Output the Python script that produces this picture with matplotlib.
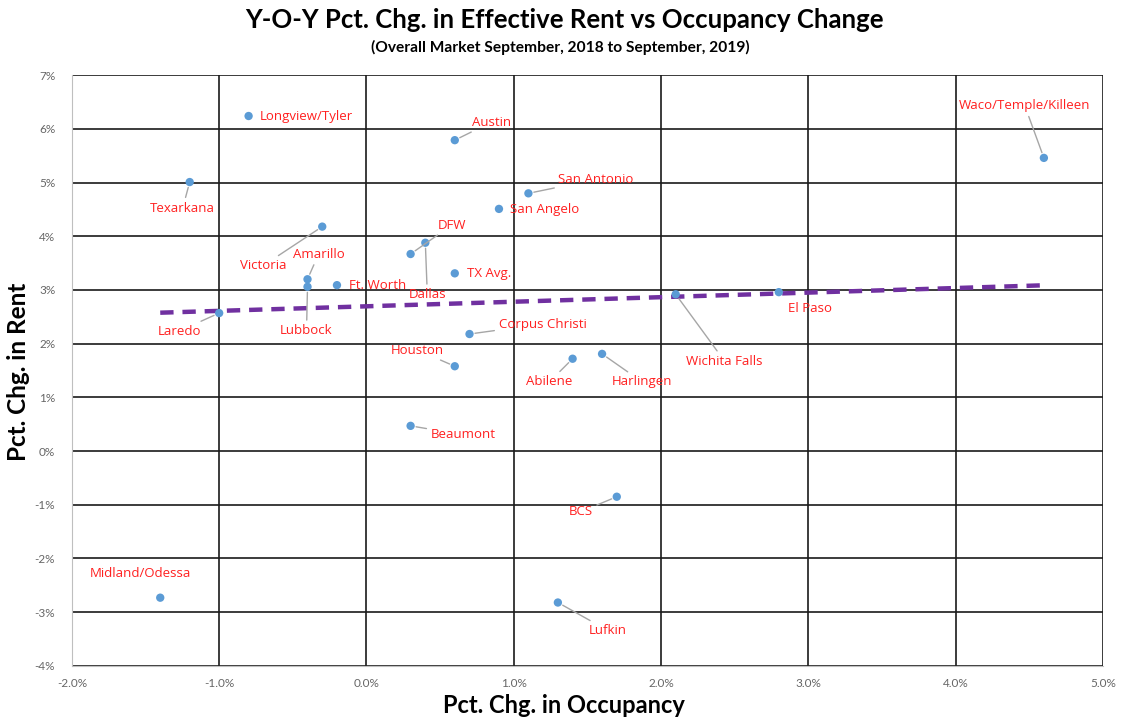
import numpy as np
import matplotlib.pyplot as plt
from matplotlib.ticker import FuncFormatter

# values (percent)
markets = ['Longview/Tyler', 'Austin', 'Waco/Temple/Killeen', 'Texarkana', 'San Antonio',
           'San Angelo', 'Victoria', 'Amarillo', 'Lubbock', 'Ft. Worth', 'DFW', 'Dallas',
           'TX Avg.', 'Laredo', 'Corpus Christi', 'Houston', 'Abilene', 'Harlingen',
           'Wichita Falls', 'El Paso', 'Beaumont', 'BCS', 'Midland/Odessa', 'Lufkin']
occupancy_chg = [-0.8, 0.6, 4.6, -1.2, 1.1, 0.9, -0.3, -0.4, -0.4, -0.2, 0.3, 0.4,
                 0.6, -1.0, 0.7, 0.6, 1.4, 1.6, 2.1, 2.8, 0.3, 1.7, -1.4, 1.3]
rent_chg = [6.24, 5.79, 5.46, 5.01, 4.80, 4.51, 4.18, 3.20, 3.06, 3.09, 3.67, 3.88,
            3.31, 2.57, 2.18, 1.58, 1.72, 1.81, 2.92, 2.96, 0.47, -0.85, -2.73, -2.82]

# label layout: pixel offset from point, alignment, leader line
label_pos = {
    'Longview/Tyler': (11, 0, 'left', False),
    'Austin': (17, 18, 'left', True),
    'Waco/Temple/Killeen': (-19, 52, 'center', True),
    'Texarkana': (-7, -26, 'center', True),
    'San Antonio': (30, 14, 'left', True),
    'San Angelo': (11, -1, 'left', False),
    'Victoria': (-59, -39, 'center', True),
    'Amarillo': (11, 25, 'center', True),
    'Lubbock': (-1, -44, 'center', True),
    'Ft. Worth': (12, 0, 'left', False),
    'DFW': (27, 29, 'left', True),
    'Dallas': (2, -52, 'center', True),
    'TX Avg.': (12, 0, 'left', False),
    'Laredo': (-40, -18, 'center', True),
    'Corpus Christi': (29, 10, 'left', True),
    'Houston': (-37, 16, 'center', True),
    'Abilene': (-23, -23, 'center', True),
    'Harlingen': (40, -28, 'center', True),
    'Wichita Falls': (49, -67, 'center', True),
    'El Paso': (31, -16, 'center', False),
    'Beaumont': (20, -9, 'left', True),
    'BCS': (-36, -15, 'center', True),
    'Midland/Odessa': (-20, 24, 'center', False),
    'Lufkin': (50, -28, 'center', True),
}

x = np.array(occupancy_chg)
y = np.array(rent_chg)

fig = plt.figure(figsize=(11.23, 7.23), dpi=100)
ax = fig.add_axes([0.064, 0.079, 0.918, 0.817])

ax.set_xlim(-2, 5)
ax.set_ylim(-4, 7)
ax.set_xticks(np.arange(-2, 5.01, 1))
ax.set_yticks(np.arange(-4, 7.01, 1))
ax.xaxis.set_major_formatter(FuncFormatter(lambda v, p: f'{v:.1f}%'))
ax.yaxis.set_major_formatter(FuncFormatter(lambda v, p: f'{v:.0f}%'))
ax.grid(True, color='#1a1a1a', linewidth=1.2, zorder=0)
ax.set_axisbelow(True)
for s in ['top', 'right']:
    ax.spines[s].set_visible(False)
for s in ['left', 'bottom']:
    ax.spines[s].set_color('#BFBFBF')
    ax.spines[s].set_zorder(3)
ax.tick_params(axis='x', colors='#666666', labelsize=8.5, length=0, pad=9)
ax.tick_params(axis='y', colors='#666666', labelsize=8.5, length=0, pad=12)
for lbl in ax.get_xticklabels() + ax.get_yticklabels():
    lbl.set_family('Lato')

# linear trendline (Excel style)
k, b = np.polyfit(x, y, 1)
tx = np.array([x.min(), x.max()])
ax.plot(tx, k * tx + b, color='#7030A0', linestyle=(0, (3, 2)), linewidth=3.2, zorder=2)

ax.scatter(x, y, s=36, color='#5B9BD5', zorder=4, edgecolors='none')

for name, xi, yi in zip(markets, x, y):
    dx, dy, ha, leader = label_pos[name]
    props = dict(arrowstyle='-', color='#A6A6A6', lw=1.0, shrinkA=1, shrinkB=4) if leader else None
    ax.annotate(name, (xi, yi), xytext=(dx, dy), textcoords='offset pixels',
                ha=ha, va='center', fontsize=9.5, color='#FF2020', family='Open Sans',
                arrowprops=props, zorder=5)

fig.text(0.503, 0.972, 'Y-O-Y Pct. Chg. in Effective Rent vs Occupancy Change',
         ha='center', va='center', fontsize=18.5, fontweight='bold', family='Lato')
fig.text(0.499, 0.935, '(Overall Market September, 2018 to September, 2019)',
         ha='center', va='center', fontsize=11.2, fontweight='bold', family='Lato')
ax.set_xlabel('Pct. Chg. in Occupancy', fontsize=17, fontweight='bold', family='Lato')
ax.xaxis.set_label_coords(0.477, -0.048)
ax.set_ylabel('Pct. Chg. in Rent', fontsize=17.5, fontweight='bold', family='Lato')
ax.yaxis.set_label_coords(-0.041, 0.497)

fig.savefig('out.png', dpi=100)
